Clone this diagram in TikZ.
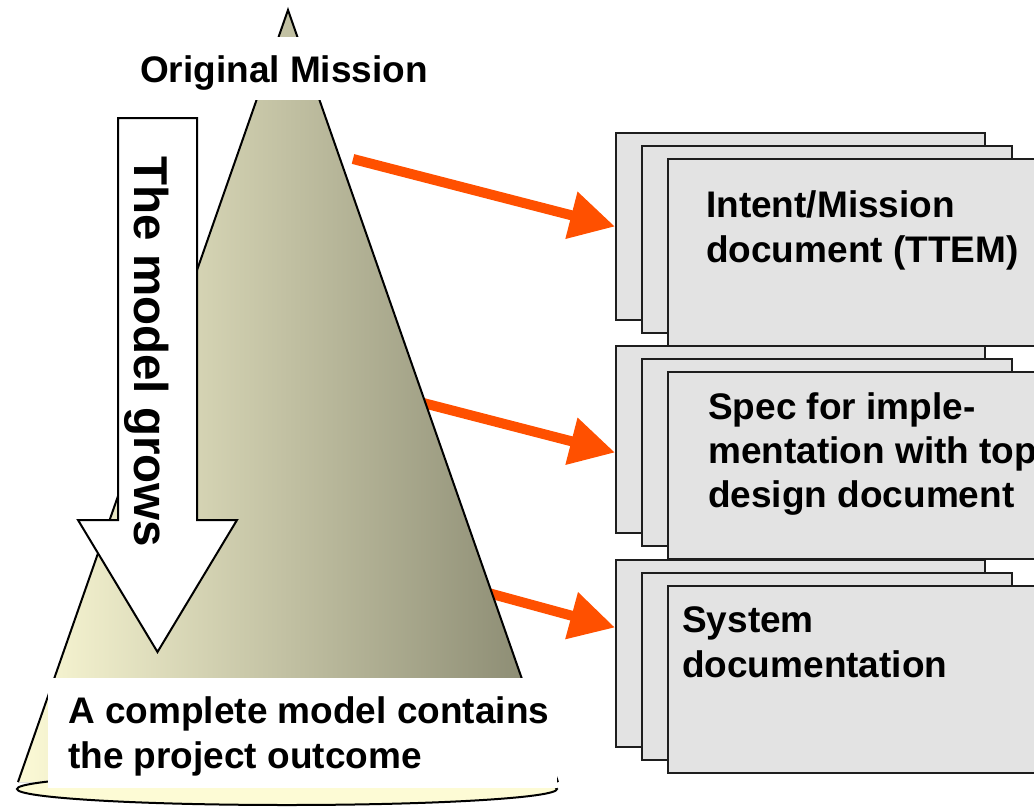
\documentclass[tikz,border=0pt]{standalone}
\usepackage{fontspec}
\setmainfont{Liberation Sans}
\usetikzlibrary{arrows.meta,calc}
\definecolor{docfill}{RGB}{227,227,227}
\definecolor{docline}{RGB}{30,30,30}
\definecolor{conelight}{RGB}{252,250,214}
\definecolor{conemid}{RGB}{210,209,176}
\definecolor{conedark}{RGB}{134,134,110}
\definecolor{baseyellow}{RGB}{253,251,213}
\definecolor{flow}{RGB}{255,80,0}
\begin{document}
\begin{tikzpicture}[x=1pt,y=-1pt,
  docsheet/.style={draw=docline, line width=2pt, fill=docfill, rectangle,
    inner sep=0pt, anchor=north west, minimum height=187pt},
  flowarrow/.style={draw=flow, line width=10pt,
    -{Triangle[length=45pt,width=46pt]}},
  doctext/.style={font=\fontsize{37}{44}\selectfont\bfseries,
    inner sep=0pt, anchor=base west},
  coverbox/.style={fill=white, inner sep=0pt},
]
\useasboundingbox (0,0) rectangle (1034,809);
\fill[white] (0,0) rectangle (1034,809);
\clip (0,0) rectangle (1034,809);

% stacks of document sheets
\foreach \n/\y in {1/132, 2/345, 3/559} {
  \node[docsheet, minimum width=369pt] (back\n) at (615,\y) {};
  \node[docsheet, minimum width=370pt] (mid\n) at (641,\y+13) {};
  \node[docsheet, minimum width=420pt] (front\n) at (667,\y+26) {};
}
\node[doctext] (t1a) at (706,217) {Intent/Mission};
\node[doctext] (t1b) at (706,262) {document (TTEM)};
\node[doctext] (t2a) at (708,419) {Spec for imple-};
\node[doctext] (t2b) at (708,463) {mentation with top};
\node[doctext] (t2c) at (708,507) {design document};
\node[doctext] (t3a) at (682,632) {System};
\node[doctext] (t3b) at (682,677) {documentation};

% arrows from the model to the documents
\coordinate (s1) at (353,159);
\coordinate (s2) at (400,397);
\coordinate (s3) at (470,588);
\draw[flowarrow] (s1) -- (back1.west);
\draw[flowarrow] (s2) -- ($(back2.west)+(0,13)$);
\draw[flowarrow] (s3) -- ($(back3.west)+(0,-26)$);

% the cone
\fill[left color=conelight, middle color=conemid, right color=conedark]
  (288,10) -- (558,782) -- (18,782) -- cycle;
\draw[line width=2pt] (18,782) -- (288,10) -- (558,782);
\draw[line width=2pt, fill=baseyellow] (287,789) ellipse [x radius=270, y radius=16];

% labels on white
\node[coverbox, minimum width=310pt, minimum height=63pt] (missionbox) at (285,68.5) {};
\node[doctext, anchor=base] (mission) at (284,82) {Original Mission};
\node[coverbox, minimum width=509pt, minimum height=110pt, anchor=north west]
  (outcomebox) at (48,678) {};
\node[doctext] (o1) at (68,723) {A complete model contains};
\node[doctext] (o2) at (68,768) {the project outcome};

% growth arrow
\draw[line width=2pt, fill=white]
  (118,118) -- (197,118) -- (197,520) -- (237,520) -- (157.5,652)
  -- (78,520) -- (118,520) -- cycle;
\node[font=\fontsize{47.5}{47.5}\selectfont\bfseries, rotate=-90, anchor=base,
  inner sep=0pt] (grows) at (134,352) {The model grows};
\end{tikzpicture}
\end{document}
